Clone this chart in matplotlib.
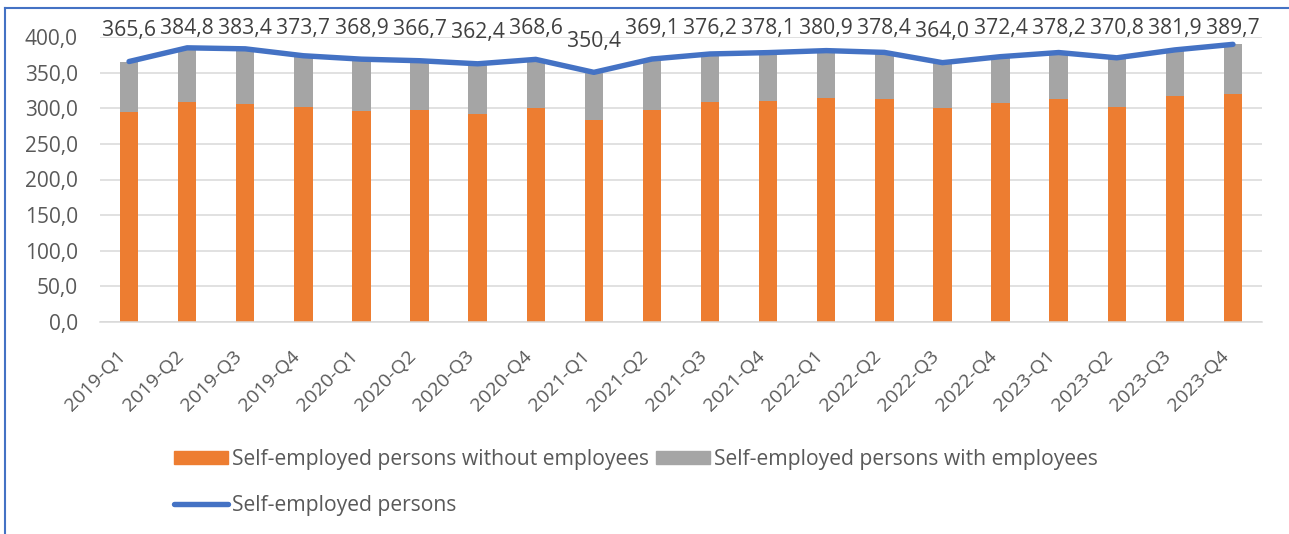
import matplotlib.pyplot as plt
import matplotlib.transforms as mtransforms
from matplotlib.patches import Patch
from matplotlib.lines import Line2D
import numpy as np

plt.rcParams['font.family'] = ['Open Sans', 'DejaVu Sans']

quarters = ['2019-Q1', '2019-Q2', '2019-Q3', '2019-Q4',
            '2020-Q1', '2020-Q2', '2020-Q3', '2020-Q4',
            '2021-Q1', '2021-Q2', '2021-Q3', '2021-Q4',
            '2022-Q1', '2022-Q2', '2022-Q3', '2022-Q4',
            '2023-Q1', '2023-Q2', '2023-Q3', '2023-Q4']

# total self-employed (line + data labels)
total = [365.6, 384.8, 383.4, 373.7, 368.9, 366.7, 362.4, 368.6, 350.4, 369.1,
         376.2, 378.1, 380.9, 378.4, 364.0, 372.4, 378.2, 370.8, 381.9, 389.7]

# without employees (orange part)
without_emp = [294.3, 309.2, 306.4, 302.2, 296.1, 297.1, 292.4, 300.3, 283.9, 298.0,
               308.3, 310.6, 314.8, 313.4, 300.8, 307.4, 312.6, 302.2, 316.8, 320.6]

with_emp = [t - w for t, w in zip(total, without_emp)]

ORANGE = '#ED7D31'
GREY = '#A5A5A5'
BLUE = '#4472C4'
TXT = '#595959'

W, H = 1289, 534
fig = plt.figure(figsize=(W / 100, H / 100), dpi=100)
ax = fig.add_axes([100 / W, 1 - 322 / H, (1262 - 100) / W, (322 - 37) / H])

x = np.arange(len(quarters))
ax.bar(x, without_emp, width=0.315, color=ORANGE, zorder=2)
ax.bar(x, with_emp, bottom=without_emp, width=0.315, color=GREY, zorder=2)
ax.plot(x, total, color=BLUE, lw=3.9, solid_capstyle='round',
        solid_joinstyle='round', zorder=3, clip_on=False)

# data labels above the line, kept below the top of the chart area
for i, v in enumerate(total):
    ax.text(i, min(v + 43.5, 412.6), f'{v:.1f}'.replace('.', ','),
            ha='center', va='center', fontsize=15.2, color='#404040')

ax.set_xlim(-0.5, len(quarters) - 0.5)
ax.set_ylim(0, 400)
ax.set_yticks(np.arange(0, 401, 50))
ax.set_yticklabels([f'{t:.1f}'.replace('.', ',') for t in np.arange(0, 401, 50)])
ax.set_xticks(x)
ax.set_xticklabels(quarters, rotation=45, ha='right', va='top')
offset = mtransforms.ScaledTranslation(12 / 100, 0, fig.dpi_scale_trans)
for lab in ax.get_xticklabels():
    lab.set_transform(lab.get_transform() + offset)

ax.tick_params(axis='y', length=0, pad=16, labelsize=15, labelcolor=TXT)
ax.tick_params(axis='x', length=0, pad=18, labelsize=14, labelcolor=TXT)
ax.grid(axis='y', color='#D9D9D9', lw=1.1, zorder=0)
for s in ['top', 'right', 'left']:
    ax.spines[s].set_visible(False)
ax.spines['bottom'].set_color('#D9D9D9')
ax.spines['bottom'].set_linewidth(1.1)

handles = [Patch(color=ORANGE), Line2D([0], [0], color=BLUE, lw=3.9, solid_capstyle='round'),
           Patch(color=GREY)]
labels = ['Self-employed persons without employees', 'Self-employed persons',
          'Self-employed persons with employees']
fig.legend(handles, labels, ncol=2, frameon=False, loc='upper left',
           bbox_to_anchor=(174 / W, 1 - 449 / H), fontsize=15.2, labelcolor=TXT,
           handlelength=2.55, handleheight=0.6, handletextpad=0.22,
           columnspacing=0.3, labelspacing=1.2, borderpad=0, borderaxespad=0)

# chart frame (left and top edges visible)
fig.add_artist(Line2D([5 / W, 5 / W], [0, 1 - 8 / H], color=BLUE, lw=1.5))
fig.add_artist(Line2D([5 / W, 1], [1 - 8 / H, 1 - 8 / H], color=BLUE, lw=1.5))

fig.savefig('out.png', dpi=100)
